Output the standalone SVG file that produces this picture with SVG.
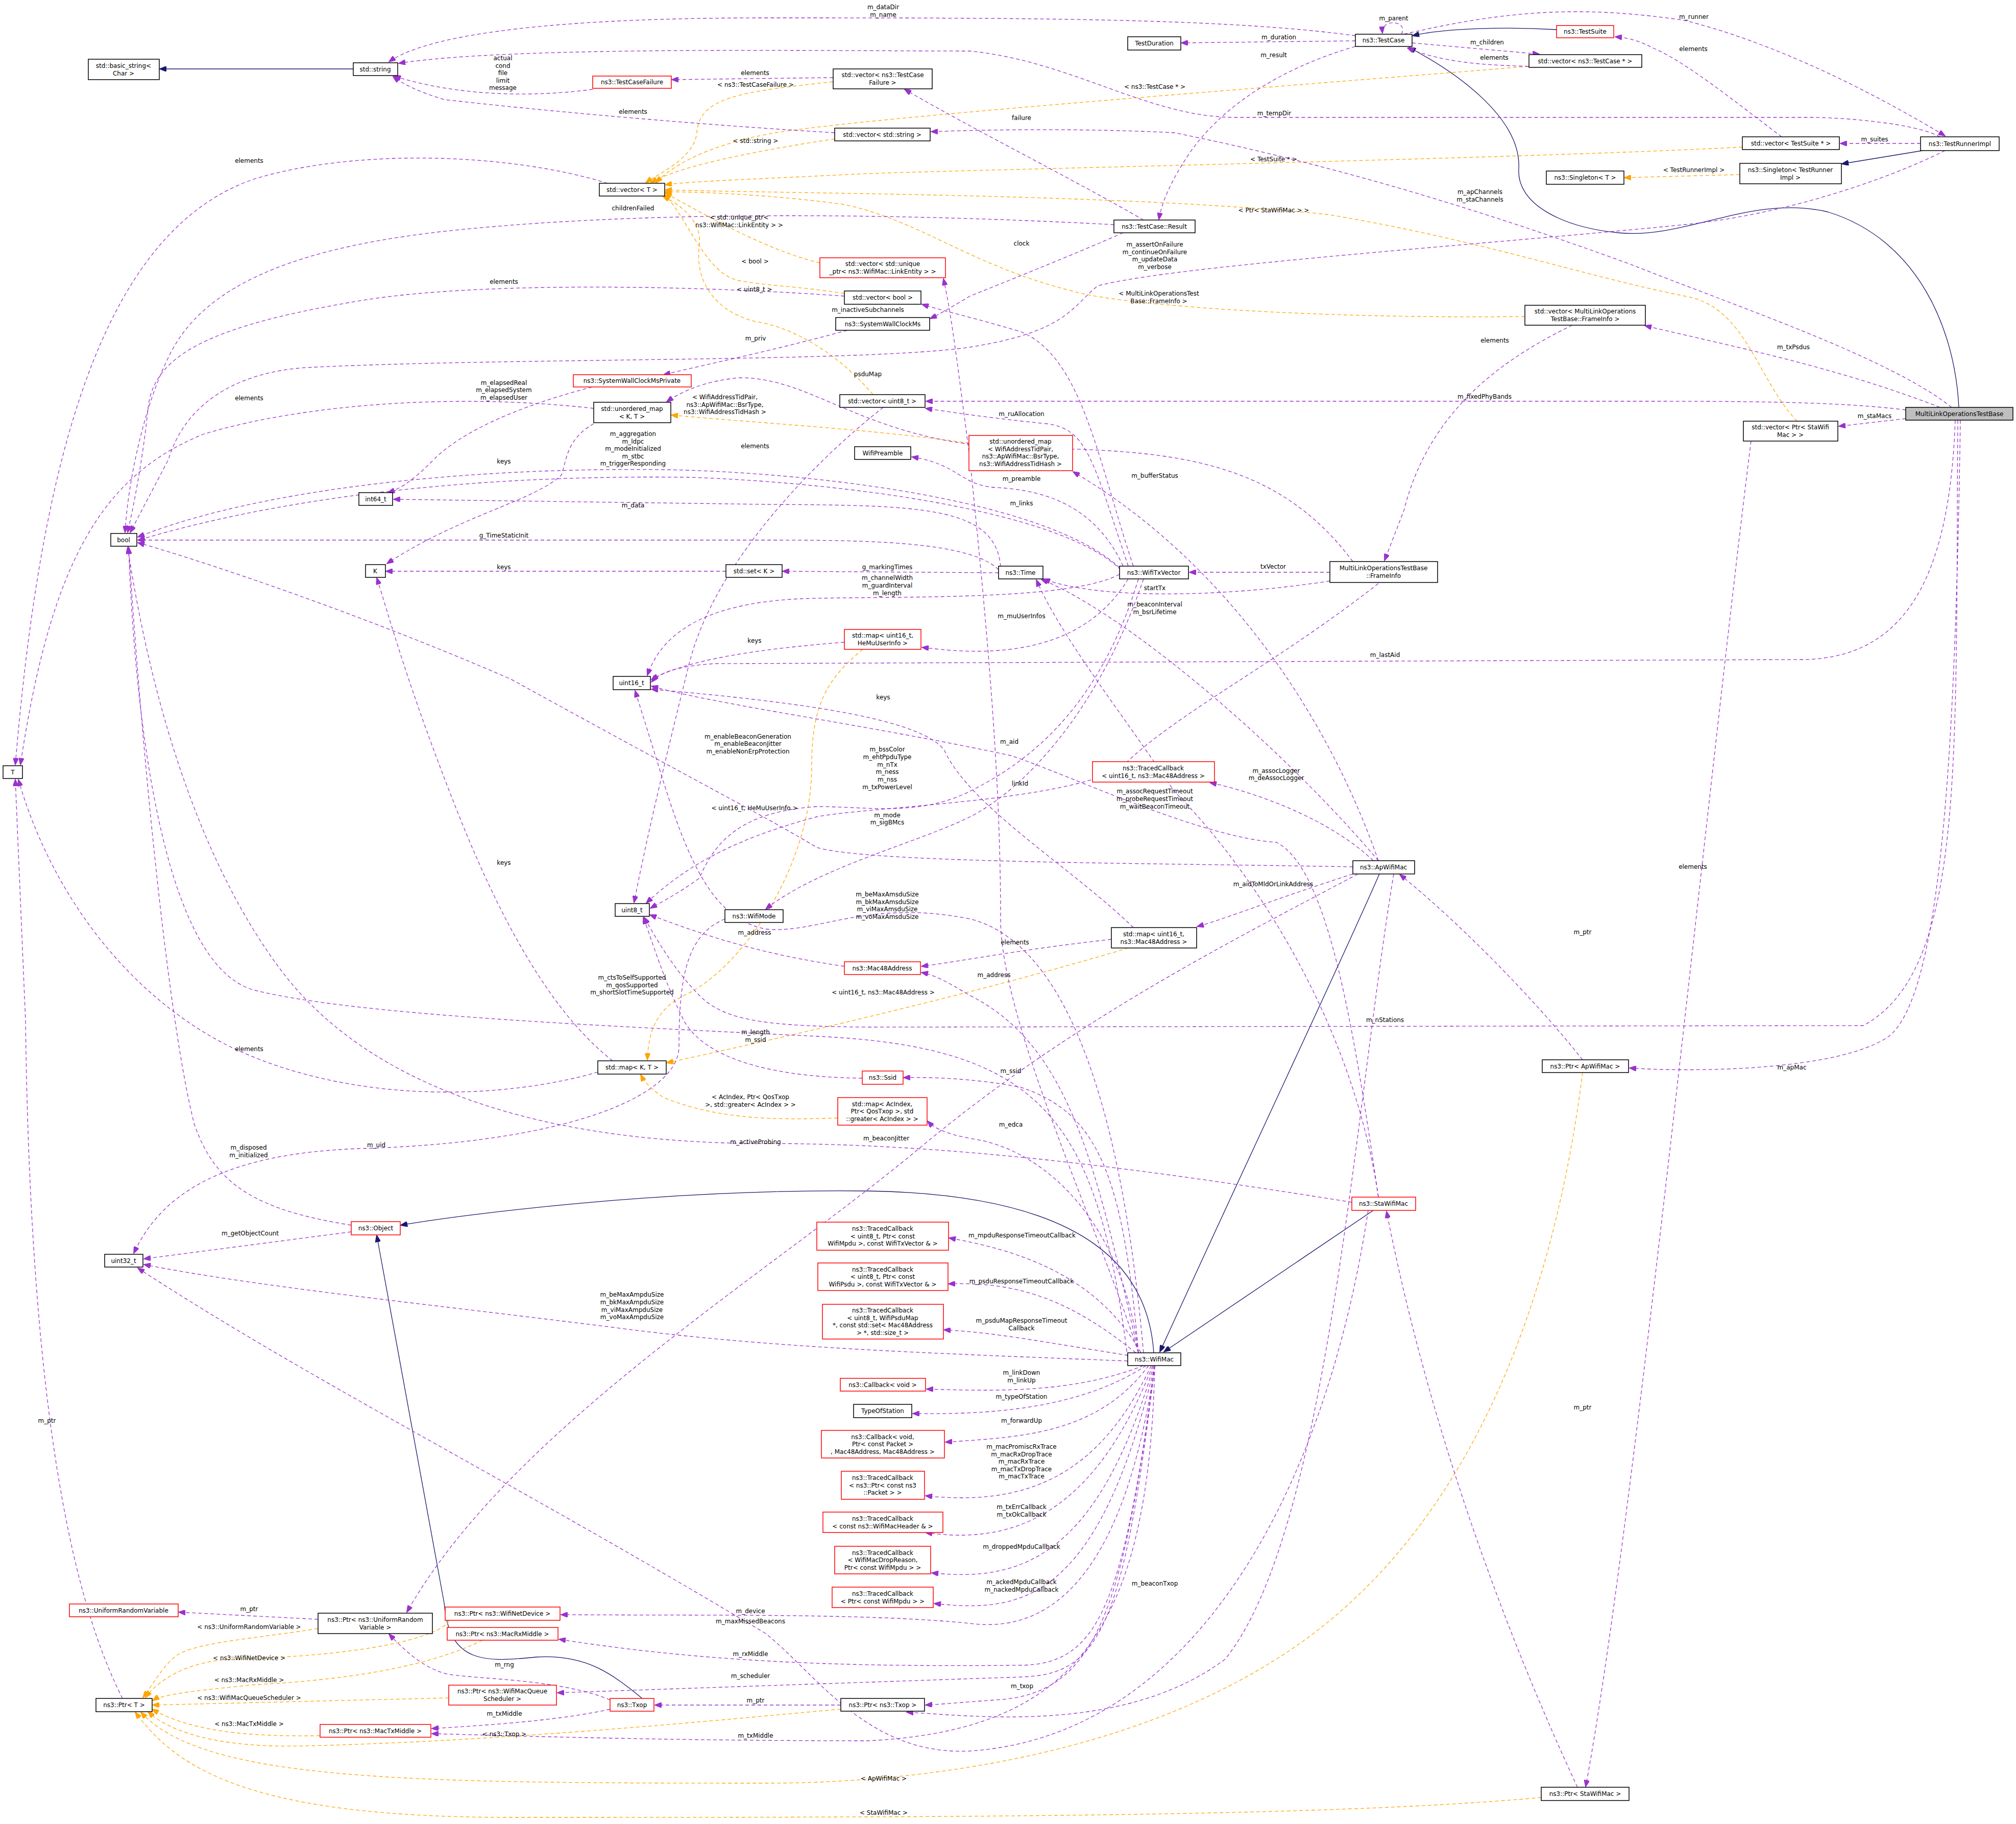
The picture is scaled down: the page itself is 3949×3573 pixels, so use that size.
<svg xmlns="http://www.w3.org/2000/svg" width="3949" height="3573" viewBox="0 0 3949 3573">
<style>
text{font-family:"DejaVu Sans","Liberation Sans",sans-serif;font-size:12px;fill:#000;text-anchor:middle}
rect{fill:#fff;stroke:#000;stroke-width:1.5}
rect.r{stroke:#ff0000}
rect.g{fill:#bfbfbf}
path{fill:none;stroke-width:1.3}
.p{stroke:#9a32cd;stroke-dasharray:7,5;marker-end:url(#mp)}
.o{stroke:#ffa500;stroke-dasharray:7,5;marker-end:url(#mo)}
.n{stroke:#191970;marker-end:url(#mn)}
</style>
<defs>
<marker id="mp" viewBox="0 0 10 8" refX="10" refY="4" markerWidth="14" markerHeight="10" markerUnits="userSpaceOnUse" orient="auto"><path d="M0,0 L10,4 L0,8 z" style="fill:#9a32cd;stroke:#9a32cd"/></marker>
<marker id="mo" viewBox="0 0 10 8" refX="10" refY="4" markerWidth="14" markerHeight="10" markerUnits="userSpaceOnUse" orient="auto"><path d="M0,0 L10,4 L0,8 z" style="fill:#ffa500;stroke:#ffa500"/></marker>
<marker id="mn" viewBox="0 0 10 8" refX="10" refY="4" markerWidth="14" markerHeight="10" markerUnits="userSpaceOnUse" orient="auto"><path d="M0,0 L10,4 L0,8 z" style="fill:#191970;stroke:#191970"/></marker>
</defs>
<g id="edges">
<path class="n" d="M692,135 L313,135"/>
<path class="n" d="M3049,58 C2950,52 2830,55 2767,70"/>
<path class="n" d="M3837,798 C3830,650 3760,470 3580,415 C3430,380 3300,470 3170,456 C3060,445 2970,400 2975,330 C2980,230 2850,140 2760,93"/>
<path class="n" d="M3766,295 L3608,321"/>
<path class="n" d="M2260,2650 C2250,2500 2150,2340 1700,2333 C1300,2328 900,2380 785,2400"/>
<path class="n" d="M2702,1712 C2620,1900 2500,2150 2272,2648"/>
<path class="n" d="M2690,2371 L2280,2648"/>
<path class="n" d="M1258,3327 C1200,3280 1150,3240 1050,3246 C950,3256 880,3260 870,3140 L738,2420"/>

<path class="o" d="M1632,160 C1450,180 1370,190 1365,260 C1360,310 1290,340 1265,358"/>
<path class="o" d="M1635,272 C1450,300 1320,330 1275,358"/>
<path class="o" d="M2995,130 C2500,170 1700,230 1520,260 C1400,280 1320,320 1285,358"/>
<path class="o" d="M3413,288 C3000,310 2000,330 1700,340 C1500,350 1350,355 1303,362"/>
<path class="o" d="M3520,825 C3440,740 3420,600 3300,580 C3100,540 2900,470 2600,420 C2200,380 1600,380 1303,372"/>
<path class="o" d="M1606,515 C1500,490 1380,420 1303,378"/>
<path class="o" d="M1654,575 C1560,560 1500,560 1450,550 C1380,540 1340,410 1300,382"/>
<path class="o" d="M1710,773 C1640,690 1550,640 1480,630 C1400,610 1360,550 1370,480 C1375,430 1330,400 1298,384"/>
<path class="o" d="M2987,620 C2600,625 2200,600 2100,570 C1900,520 1800,430 1650,400 C1500,380 1350,375 1303,376"/>
<path class="o" d="M3408,342 L3182,348"/>
<path class="o" d="M1898,868 C1700,840 1500,830 1315,813"/>
<path class="o" d="M1690,1272 C1620,1330 1590,1380 1590,1500 C1590,1700 1450,1900 1340,1950 C1280,1980 1270,2030 1268,2076"/>
<path class="o" d="M2210,1857 C1900,1950 1500,2040 1306,2082"/>
<path class="o" d="M1641,2190 C1500,2195 1400,2190 1300,2150 C1270,2130 1260,2115 1255,2105"/>
<path class="o" d="M623,3190 C500,3210 400,3215 350,3240 C320,3260 300,3300 280,3325"/>
<path class="o" d="M880,3174 C860,3210 700,3245 450,3250 C380,3255 320,3280 285,3325"/>
<path class="o" d="M945,3213 C850,3260 700,3290 500,3300 C400,3310 320,3318 299,3331"/>
<path class="o" d="M879,3326 L299,3340"/>
<path class="o" d="M627,3400 C500,3402 380,3395 298,3348"/>
<path class="o" d="M1647,3348 C1400,3370 1000,3410 600,3420 C420,3425 330,3390 290,3353"/>
<path class="o" d="M3100,2101 C3050,2500 2900,3000 2500,3250 C2200,3440 1800,3493 1500,3493 C800,3493 400,3490 276,3354"/>
<path class="o" d="M3019,3521 C2600,3560 1800,3560 1000,3560 C500,3560 350,3470 265,3354"/>

<path class="p" d="M2655,70 C2400,35 2000,35 1500,35 C1000,35 820,80 762,121"/>
<path class="p" d="M2745,67 C2760,40 2705,35 2708,65"/>
<path class="p" d="M2655,80 L2314,84"/>
<path class="p" d="M2655,91 C2520,130 2400,200 2330,300 C2290,360 2275,400 2270,430"/>
<path class="p" d="M2766,84 L3015,106"/>
<path class="p" d="M3030,130 C2900,130 2820,120 2757,94"/>
<path class="p" d="M3490,268 C3400,200 3300,120 3240,95 C3220,85 3200,75 3164,72"/>
<path class="p" d="M2750,67 C2950,20 3100,10 3300,40 C3500,90 3700,200 3810,266"/>
<path class="p" d="M3762,281 L3605,281"/>
<path class="p" d="M3800,268 C3750,240 3600,230 3550,230 L2420,230 C2250,230 2100,120 1900,100 C1600,100 1000,90 781,124"/>
<path class="p" d="M1161,175 C1050,190 900,190 772,149"/>
<path class="p" d="M1632,152 L1316,156"/>
<path class="p" d="M1635,260 C1300,240 1000,210 870,195 C820,180 790,165 770,150"/>
<path class="p" d="M1190,359 C1000,300 700,290 500,350 C200,450 80,900 30,1498"/>
<path class="p" d="M2182,440 C1800,420 1300,410 900,450 C600,480 400,550 330,700 C280,800 250,950 245,1043"/>
<path class="p" d="M2240,431 C2100,350 1900,250 1772,175"/>
<path class="p" d="M2200,456 C2100,500 1950,560 1900,580 C1850,610 1835,618 1822,624"/>
<path class="p" d="M1654,580 C1300,555 900,555 700,590 C400,640 300,700 290,800 C280,900 260,1000 250,1043"/>
<path class="p" d="M1660,647 C1500,690 1400,710 1300,734"/>
<path class="p" d="M1160,758 C1000,800 900,850 850,900 C800,950 780,958 760,965"/>
<path class="p" d="M1163,800 C900,770 600,790 400,850 C200,930 100,1100 40,1498"/>
<path class="p" d="M1163,830 C1110,860 1110,900 1100,930 C1050,980 900,1010 758,1104"/>
<path class="p" d="M3810,295 C3700,350 3500,420 3300,440 C2900,480 2300,520 2150,560 C2100,600 2090,650 1900,680 C1700,710 1000,700 600,720 C450,730 360,800 330,900 L255,1043"/>
<path class="p" d="M2193,1112 C2050,980 1600,925 1300,920 C900,915 500,960 270,1052"/>
<path class="p" d="M2196,1117 C2080,1000 1650,945 1350,935 C1000,930 600,960 271,1058"/>
<path class="p" d="M1960,1110 C1950,990 1800,990 1500,988 L771,978"/>
<path class="p" d="M1956,1116 C1900,1060 1700,1058 1500,1058 L270,1058"/>
<path class="p" d="M1956,1122 L1533,1119"/>
<path class="p" d="M1422,1119 L756,1119"/>
<path class="p" d="M1730,798 C1600,900 1400,1100 1350,1300 C1300,1500 1265,1650 1242,1768"/>
<path class="p" d="M2230,2650 C2150,2400 1960,2000 1960,1800 C1960,1500 1930,1200 1900,900 C1880,750 1865,620 1848,546"/>
<path class="p" d="M2200,1109 C2150,1000 2060,960 1950,955 C1880,950 1880,910 1786,895"/>
<path class="p" d="M2210,1109 C2140,900 2130,840 2050,830 C1950,820 1880,810 1813,800"/>
<path class="p" d="M2700,1686 C2600,1400 2400,1100 2102,924"/>
<path class="p" d="M2220,1109 C2150,900 2120,700 2000,650 C1900,620 1850,610 1806,596"/>
<path class="p" d="M2605,1121 L2330,1121"/>
<path class="p" d="M2605,1138 C2400,1170 2150,1175 2044,1134"/>
<path class="p" d="M2650,1100 C2500,900 2300,880 2000,878 C1700,870 1600,740 1450,740 C1380,745 1330,770 1306,787"/>
<path class="p" d="M3080,637 C2950,700 2800,800 2750,1000 L2712,1098"/>
<path class="p" d="M3800,798 C3600,720 3400,680 3222,638"/>
<path class="p" d="M3733,803 C3600,786 3400,786 3200,786 L1814,786"/>
<path class="p" d="M3733,820 L3602,835"/>
<path class="p" d="M3830,823 C3820,1100 3750,1290 3530,1292 L1400,1300 C1320,1305 1290,1320 1276,1336"/>
<path class="p" d="M3823,798 C3700,700 3400,600 3200,520 C2900,410 2600,320 2300,260 C2100,250 1900,255 1824,258"/>
<path class="p" d="M3840,823 C3830,1500 3800,1950 3700,2030 C3600,2100 3300,2100 3192,2092"/>
<path class="p" d="M3835,823 C3830,1500 3850,1900 3650,2009 L1700,2012 C1500,2010 1420,2000 1370,1950 C1320,1900 1280,1830 1262,1797"/>
<path class="p" d="M3430,864 C3350,1500 3200,3000 3106,3500"/>
<path class="p" d="M3100,2076 C3000,1950 2850,1800 2742,1713"/>
<path class="p" d="M3090,3501 C2950,3200 2800,2800 2716,2373"/>
<path class="p" d="M2690,1686 C2600,1600 2450,1550 2370,1533"/>
<path class="p" d="M2650,1712 C2500,1760 2400,1800 2345,1815"/>
<path class="p" d="M2650,1698 C2200,1690 1700,1690 1600,1660 C1500,1600 1400,1550 1000,1330 C700,1200 400,1100 270,1063"/>
<path class="p" d="M2700,1686 C2500,1450 2200,1200 2040,1135"/>
<path class="p" d="M2660,1712 C2400,1850 2100,2000 1800,2250 C1500,2500 1000,2800 797,3158"/>
<path class="p" d="M2700,2345 C2650,2000 2600,1700 2500,1650 C2350,1640 2100,1520 1980,1480 C1700,1420 1400,1380 1276,1344"/>
<path class="p" d="M2220,1817 C2100,1700 1900,1580 1850,1470 C1800,1400 1500,1370 1276,1350"/>
<path class="p" d="M2700,1143 C2500,1300 2300,1400 2200,1500 C2100,1570 1700,1580 1600,1600 C1450,1640 1350,1690 1266,1769"/>
<path class="p" d="M2210,1134 C2110,1300 1900,1280 1806,1268"/>
<path class="p" d="M1654,1258 C1500,1270 1350,1290 1276,1331"/>
<path class="p" d="M2193,1125 C2100,1175 1800,1168 1600,1172 C1400,1175 1300,1230 1268,1323"/>
<path class="p" d="M2230,1134 C2150,1400 2000,1500 1900,1550 C1800,1600 1700,1580 1600,1580 C1450,1590 1400,1650 1370,1720 C1330,1750 1290,1770 1274,1779"/>
<path class="p" d="M2240,1134 C2150,1400 2000,1550 1900,1600 C1800,1650 1600,1700 1500,1781"/>
<path class="p" d="M2700,2345 C2650,2000 2450,1700 2300,1550 C2200,1400 2080,1250 2030,1136"/>
<path class="p" d="M2648,2355 C2300,2300 1900,2240 1500,2240 C1000,2240 700,2100 550,1900 C400,1700 300,1400 250,1072"/>
<path class="p" d="M2209,2660 C2150,2200 2050,2050 1600,2030 C1200,2010 700,1990 500,1940 C300,1890 260,1300 252,1072"/>
<path class="p" d="M2240,2650 C2200,2200 2100,1850 1900,1800 C1700,1760 1600,1830 1500,1820 C1400,1800 1350,1700 1290,1500 L1244,1353"/>
<path class="p" d="M2209,2666 C1800,2650 1500,2640 1200,2600 C800,2550 500,2520 282,2477"/>
<path class="p" d="M2230,2650 C2150,2300 2100,2050 1900,1950 C1850,1920 1830,1910 1805,1905"/>
<path class="p" d="M2177,1840 C2000,1860 1900,1880 1805,1893"/>
<path class="p" d="M1654,1893 C1500,1870 1400,1840 1273,1792"/>
<path class="p" d="M1689,2112 C1500,2110 1380,2070 1340,2000 C1300,1920 1280,1850 1260,1797"/>
<path class="p" d="M2230,2650 C2200,2300 2150,2180 2000,2130 C1900,2110 1800,2110 1770,2111"/>
<path class="p" d="M2230,2650 C2200,2400 2050,2250 1900,2230 C1850,2220 1830,2210 1817,2196"/>
<path class="p" d="M688,2400 C500,2370 420,2320 380,2200 C330,2000 280,1500 252,1072"/>
<path class="p" d="M688,2413 L282,2466"/>
<path class="p" d="M1420,1800 C1350,1830 1330,1900 1330,2050 C1330,2150 1100,2240 700,2250 C450,2260 320,2330 262,2455"/>
<path class="p" d="M2235,2650 C2150,2500 2000,2450 1859,2425"/>
<path class="p" d="M2225,2650 C2100,2550 2000,2510 1858,2515"/>
<path class="p" d="M2210,2655 C2050,2630 1950,2610 1849,2605"/>
<path class="p" d="M2240,2675 C2100,2730 1950,2725 1815,2721"/>
<path class="p" d="M2245,2675 C2100,2770 1900,2770 1788,2769"/>
<path class="p" d="M2250,2675 C2150,2810 2000,2815 1852,2825"/>
<path class="p" d="M2255,2675 C2150,2900 2000,2950 1813,2930"/>
<path class="p" d="M2258,2675 C2150,2950 2000,3030 1813,3002"/>
<path class="p" d="M2260,2675 C2150,3050 2000,3100 1825,3081"/>
<path class="p" d="M2262,2675 C2150,3140 2000,3160 1830,3141"/>
<path class="p" d="M2262,2675 C2200,3100 2050,3200 1900,3180 C1700,3160 1400,3165 1099,3163"/>
<path class="p" d="M2680,2371 C2600,2900 2350,3400 1900,3430 C1700,3440 1600,3280 1500,3200 C1000,2900 600,2700 270,2484"/>
<path class="p" d="M2262,2675 C2200,3150 2150,3260 2000,3262 C1700,3265 1400,3260 1095,3211"/>
<path class="p" d="M2262,2675 C2200,3200 2150,3280 2000,3285 L1092,3316"/>
<path class="p" d="M1195,3330 C1100,3290 950,3290 880,3280 C830,3270 790,3230 762,3201"/>
<path class="p" d="M1195,3348 C1100,3370 950,3380 846,3386"/>
<path class="p" d="M2262,2675 C2250,3200 2100,3390 1700,3410 C1300,3410 1000,3400 846,3396"/>
<path class="p" d="M1647,3340 L1283,3340"/>
<path class="p" d="M2262,2675 C2200,3150 2150,3320 1950,3330 C1880,3335 1850,3338 1813,3340"/>
<path class="p" d="M2730,1712 C2650,2200 2600,3000 2400,3250 C2200,3400 1900,3360 1776,3354"/>
<path class="p" d="M240,3327 C150,3150 60,2800 50,2000 L30,1527"/>
<path class="p" d="M623,3172 L350,3158"/>
<path class="p" d="M1171,2100 C1000,2150 700,2170 450,2050 C250,1950 100,1750 36,1527"/>
<path class="p" d="M1200,2078 C1100,2000 1000,1850 900,1600 C800,1350 760,1200 738,1132"/>
</g>
<g id="edge-labels">
<text x="1480" y="170">&lt; ns3::TestCaseFailure &gt;</text>
<text x="1480" y="280">&lt; std::string &gt;</text>
<text x="2262" y="174">&lt; ns3::TestCase * &gt;</text>
<text x="2495" y="316">&lt; TestSuite * &gt;</text>
<text x="2495" y="416">&lt; Ptr&lt; StaWifiMac &gt; &gt;</text>
<text x="1448" y="430">&lt; std::unique_ptr&lt;</text>
<text x="1448" y="445">ns3::WifiMac::LinkEntity &gt; &gt;</text>
<text x="1479" y="516">&lt; bool &gt;</text>
<text x="1478" y="571">&lt; uint8_t &gt;</text>
<text x="2270" y="579">&lt; MultiLinkOperationsTest</text>
<text x="2270" y="594">Base::FrameInfo &gt;</text>
<text x="3318" y="337">&lt; TestRunnerImpl &gt;</text>
<text x="1420" y="782">&lt; WifiAddressTidPair,</text>
<text x="1420" y="797">ns3::ApWifiMac::BsrType,</text>
<text x="1420" y="811">ns3::WifiAddressTidHash &gt;</text>
<text x="1478" y="1587">&lt; uint16_t, HeMuUserInfo &gt;</text>
<text x="1730" y="1948">&lt; uint16_t, ns3::Mac48Address &gt;</text>
<text x="1470" y="2153">&lt; AcIndex, Ptr&lt; QosTxop</text>
<text x="1470" y="2168">&gt;, std::greater&lt; AcIndex &gt; &gt;</text>
<text x="488" y="3191">&lt; ns3::UniformRandomVariable &gt;</text>
<text x="488" y="3252">&lt; ns3::WifiNetDevice &gt;</text>
<text x="488" y="3295">&lt; ns3::MacRxMiddle &gt;</text>
<text x="488" y="3330">&lt; ns3::WifiMacQueueScheduler &gt;</text>
<text x="488" y="3381">&lt; ns3::MacTxMiddle &gt;</text>
<text x="988" y="3401">&lt; ns3::Txop &gt;</text>
<text x="1731" y="3488">&lt; ApWifiMac &gt;</text>
<text x="1731" y="3555">&lt; StaWifiMac &gt;</text>
<text x="1730" y="18">m_dataDir</text><text x="1730" y="33">m_name</text>
<text x="2730" y="40">m_parent</text>
<text x="2505" y="77">m_duration</text>
<text x="2495" y="112">m_result</text>
<text x="2913" y="87">m_children</text>
<text x="2927" y="117">elements</text>
<text x="3317" y="100">elements</text>
<text x="3318" y="37">m_runner</text>
<text x="3672" y="277">m_suites</text>
<text x="2496" y="226">m_tempDir</text>
<text x="985" y="118">actual</text><text x="985" y="133">cond</text><text x="985" y="147">file</text><text x="985" y="162">limit</text><text x="985" y="176">message</text>
<text x="1479" y="147">elements</text>
<text x="1240" y="223">elements</text>
<text x="488" y="319">elements</text>
<text x="1240" y="412">childrenFailed</text>
<text x="2001" y="235">failure</text>
<text x="2001" y="481">clock</text>
<text x="987" y="556">elements</text>
<text x="1480" y="667">m_priv</text>
<text x="987" y="754">m_elapsedReal</text><text x="987" y="768">m_elapsedSystem</text><text x="987" y="783">m_elapsedUser</text>
<text x="488" y="784">elements</text>
<text x="2262" y="483">m_assertOnFailure</text><text x="2262" y="498">m_continueOnFailure</text><text x="2262" y="512">m_updateData</text><text x="2262" y="527">m_verbose</text>
<text x="1240" y="854">m_aggregation</text><text x="1240" y="869">m_ldpc</text><text x="1240" y="883">m_modeInitialized</text><text x="1240" y="898">m_stbc</text><text x="1240" y="912">m_triggerResponding</text>
<text x="987" y="908">keys</text>
<text x="1240" y="994">m_data</text>
<text x="987" y="1053">g_TimeStaticInit</text>
<text x="1738" y="1115">g_markingTimes</text>
<text x="987" y="1115">keys</text>
<text x="1479" y="878">elements</text>
<text x="2001" y="990">m_links</text>
<text x="2001" y="942">m_preamble</text>
<text x="2001" y="815">m_ruAllocation</text>
<text x="2262" y="936">m_bufferStatus</text>
<text x="1700" y="611">m_inactiveSubchannels</text>
<text x="2494" y="1114">txVector</text>
<text x="2262" y="1156">startTx</text>
<text x="1700" y="737">psduMap</text>
<text x="2928" y="671">elements</text>
<text x="3513" y="684">m_txPsdus</text>
<text x="2908" y="781">m_fixedPhyBands</text>
<text x="3672" y="819">m_staMacs</text>
<text x="2713" y="1287">m_lastAid</text>
<text x="2899" y="380">m_apChannels</text><text x="2899" y="395">m_staChannels</text>
<text x="3510" y="2095">m_apMac</text>
<text x="2713" y="2002">m_nStations</text>
<text x="3316" y="1702">elements</text>
<text x="3100" y="1830">m_ptr</text>
<text x="3100" y="2761">m_ptr</text>
<text x="2500" y="1514">m_assocLogger</text><text x="2500" y="1528">m_deAssocLogger</text>
<text x="2494" y="1736">m_aidToMldOrLinkAddress</text>
<text x="1465" y="1447">m_enableBeaconGeneration</text><text x="1465" y="1461">m_enableBeaconJitter</text><text x="1465" y="1476">m_enableNonErpProtection</text>
<text x="2262" y="1188">m_beaconInterval</text><text x="2262" y="1203">m_bsrLifetime</text>
<text x="1736" y="2234">m_beaconJitter</text>
<text x="1977" y="1457">m_aid</text>
<text x="1730" y="1370">keys</text>
<text x="1998" y="1539">linkId</text>
<text x="2001" y="1211">m_muUserInfos</text>
<text x="1478" y="1259">keys</text>
<text x="1738" y="1136">m_channelWidth</text><text x="1738" y="1151">m_guardInterval</text><text x="1738" y="1166">m_length</text>
<text x="1738" y="1472">m_bssColor</text><text x="1738" y="1487">m_ehtPpduType</text><text x="1738" y="1502">m_nTx</text><text x="1738" y="1516">m_ness</text><text x="1738" y="1531">m_nss</text><text x="1738" y="1546">m_txPowerLevel</text>
<text x="1738" y="1601">m_mode</text><text x="1738" y="1615">m_sigBMcs</text>
<text x="2262" y="1554">m_assocRequestTimeout</text><text x="2262" y="1569">m_probeRequestTimeout</text><text x="2262" y="1584">m_waitBeaconTimeout</text>
<text x="1480" y="2241">m_activeProbing</text>
<text x="1238" y="1919">m_ctsToSelfSupported</text><text x="1238" y="1934">m_qosSupported</text><text x="1238" y="1948">m_shortSlotTimeSupported</text>
<text x="1738" y="1756">m_beMaxAmsduSize</text><text x="1738" y="1771">m_bkMaxAmsduSize</text><text x="1738" y="1785">m_viMaxAmsduSize</text><text x="1738" y="1800">m_voMaxAmsduSize</text>
<text x="1238" y="2540">m_beMaxAmpduSize</text><text x="1238" y="2555">m_bkMaxAmpduSize</text><text x="1238" y="2570">m_viMaxAmpduSize</text><text x="1238" y="2584">m_voMaxAmpduSize</text>
<text x="1947" y="1914">m_address</text>
<text x="1988" y="1850">elements</text>
<text x="1478" y="1831">m_address</text>
<text x="1480" y="2026">m_length</text><text x="1480" y="2041">m_ssid</text>
<text x="1980" y="2102">m_ssid</text>
<text x="1980" y="2207">m_edca</text>
<text x="487" y="2252">m_disposed</text><text x="487" y="2267">m_initialized</text>
<text x="490" y="2420">m_getObjectCount</text>
<text x="737" y="2247">m_uid</text>
<text x="2002" y="2424">m_mpduResponseTimeoutCallback</text>
<text x="2001" y="2514">m_psduResponseTimeoutCallback</text>
<text x="2001" y="2591">m_psduMapResponseTimeout</text><text x="2001" y="2606">Callback</text>
<text x="2001" y="2693">m_linkDown</text><text x="2001" y="2708">m_linkUp</text>
<text x="2001" y="2740">m_typeOfStation</text>
<text x="2001" y="2787">m_forwardUp</text>
<text x="2001" y="2838">m_macPromiscRxTrace</text><text x="2001" y="2853">m_macRxDropTrace</text><text x="2001" y="2867">m_macRxTrace</text><text x="2001" y="2882">m_macTxDropTrace</text><text x="2001" y="2896">m_macTxTrace</text>
<text x="2001" y="2956">m_txErrCallback</text><text x="2001" y="2971">m_txOkCallback</text>
<text x="2001" y="3034">m_droppedMpduCallback</text>
<text x="2001" y="3103">m_ackedMpduCallback</text><text x="2001" y="3118">m_nackedMpduCallback</text>
<text x="1470" y="3160">m_device</text>
<text x="1470" y="3180">m_maxMissedBeacons</text>
<text x="1470" y="3244">m_rxMiddle</text>
<text x="1470" y="3287">m_scheduler</text>
<text x="988" y="3265">m_rng</text>
<text x="988" y="3361">m_txMiddle</text>
<text x="1480" y="3404">m_txMiddle</text>
<text x="1480" y="3335">m_ptr</text>
<text x="2002" y="3307">m_txop</text>
<text x="2262" y="3106">m_beaconTxop</text>
<text x="92" y="2787">m_ptr</text>
<text x="488" y="3156">m_ptr</text>
<text x="488" y="2059">elements</text>
<text x="987" y="1694">keys</text>
</g>
<g id="n_basic_string"><rect x="173" y="116" width="139" height="40"/><text x="242" y="133">std::basic_string&lt;</text><text x="242" y="148">Char &gt;</text></g>
<g id="n_string"><rect x="692" y="123" width="87" height="25"/><text x="735" y="140">std::string</text></g>
<g id="n_tcfailure"><rect class="r" x="1161" y="149" width="154" height="24"/><text x="1238" y="165">ns3::TestCaseFailure</text></g>
<g id="n_vecT"><rect x="1174" y="359" width="128" height="25"/><text x="1238" y="376">std::vector&lt; T &gt;</text></g>
<g id="n_swcpriv"><rect class="r" x="1123" y="734" width="231" height="24"/><text x="1238" y="750">ns3::SystemWallClockMsPrivate</text></g>
<g id="n_umapKT"><rect x="1163" y="788" width="151" height="40"/><text x="1238" y="805">std::unordered_map</text><text x="1238" y="820">&lt; K, T &gt;</text></g>
<g id="n_int64"><rect x="703" y="965" width="66" height="25"/><text x="736" y="982">int64_t</text></g>
<g id="n_bool"><rect x="217" y="1045" width="51" height="25"/><text x="242" y="1062">bool</text></g>
<g id="n_testduration"><rect x="2209" y="72" width="104" height="26"/><text x="2261" y="89">TestDuration</text></g>
<g id="n_testcase"><rect x="2655" y="67" width="111" height="24"/><text x="2710" y="83">ns3::TestCase</text></g>
<g id="n_vecTCF"><rect x="1632" y="135" width="194" height="39"/><text x="1729" y="151">std::vector&lt; ns3::TestCase</text><text x="1729" y="166">Failure &gt;</text></g>
<g id="n_vecstring"><rect x="1635" y="251" width="187" height="25"/><text x="1728" y="268">std::vector&lt; std::string &gt;</text></g>
<g id="n_result"><rect x="2182" y="431" width="159" height="25"/><text x="2261" y="448">ns3::TestCase::Result</text></g>
<g id="n_vecuniq"><rect class="r" x="1606" y="505" width="246" height="39"/><text x="1729" y="521">std::vector&lt; std::unique</text><text x="1729" y="536">_ptr&lt; ns3::WifiMac::LinkEntity &gt; &gt;</text></g>
<g id="n_vecbool"><rect x="1654" y="570" width="150" height="26"/><text x="1729" y="587">std::vector&lt; bool &gt;</text></g>
<g id="n_swc"><rect x="1637" y="622" width="184" height="25"/><text x="1729" y="639">ns3::SystemWallClockMs</text></g>
<g id="n_vecuint8"><rect x="1645" y="773" width="167" height="25"/><text x="1728" y="790">std::vector&lt; uint8_t &gt;</text></g>
<g id="n_preamble"><rect x="1674" y="875" width="110" height="25"/><text x="1729" y="892">WifiPreamble</text></g>
<g id="n_umapWA"><rect class="r" x="1898" y="853" width="203" height="69"/><text x="1999" y="869">std::unordered_map</text><text x="1999" y="884">&lt; WifiAddressTidPair,</text><text x="1999" y="898">ns3::ApWifiMac::BsrType,</text><text x="1999" y="913">ns3::WifiAddressTidHash &gt;</text></g>
<g id="n_testsuite"><rect class="r" x="3049" y="50" width="112" height="24"/><text x="3105" y="66">ns3::TestSuite</text></g>
<g id="n_vecTC"><rect x="2995" y="107" width="221" height="25"/><text x="3105" y="124">std::vector&lt; ns3::TestCase * &gt;</text></g>
<g id="n_vecTS"><rect x="3413" y="268" width="190" height="25"/><text x="3508" y="285">std::vector&lt; TestSuite * &gt;</text></g>
<g id="n_runner"><rect x="3762" y="268" width="154" height="27"/><text x="3839" y="286">ns3::TestRunnerImpl</text></g>
<g id="n_singT"><rect x="3029" y="335" width="152" height="26"/><text x="3105" y="352">ns3::Singleton&lt; T &gt;</text></g>
<g id="n_singR"><rect x="3408" y="320" width="199" height="40"/><text x="3507" y="337">ns3::Singleton&lt; TestRunner</text><text x="3507" y="352">Impl &gt;</text></g>
<g id="n_vecFI"><rect x="2987" y="598" width="236" height="39"/><text x="3105" y="614">std::vector&lt; MultiLinkOperations</text><text x="3105" y="629">TestBase::FrameInfo &gt;</text></g>
<g id="n_mlotb"><rect class="g" x="3733" y="798" width="210" height="25"/><text x="3838" y="815">MultiLinkOperationsTestBase</text></g>
<g id="n_vecSta"><rect x="3415" y="825" width="185" height="39"/><text x="3507" y="841">std::vector&lt; Ptr&lt; StaWifi</text><text x="3507" y="856">Mac &gt; &gt;</text></g>
<g id="n_set"><rect x="1422" y="1106" width="110" height="25"/><text x="1477" y="1123">std::set&lt; K &gt;</text></g>
<g id="n_time"><rect x="1956" y="1109" width="87" height="25"/><text x="1999" y="1126">ns3::Time</text></g>
<g id="n_txvec"><rect x="2193" y="1109" width="135" height="25"/><text x="2260" y="1126">ns3::WifiTxVector</text></g>
<g id="n_frameinfo"><rect x="2605" y="1100" width="211" height="41"/><text x="2710" y="1117">MultiLinkOperationsTestBase</text><text x="2710" y="1132">::FrameInfo</text></g>
<g id="n_mapHeMu"><rect class="r" x="1654" y="1233" width="150" height="39"/><text x="1729" y="1249">std::map&lt; uint16_t,</text><text x="1729" y="1264">HeMuUserInfo &gt;</text></g>
<g id="n_uint16"><rect x="1201" y="1325" width="73" height="26"/><text x="1237" y="1342">uint16_t</text></g>
<g id="n_tcMac"><rect class="r" x="2140" y="1492" width="239" height="40"/><text x="2259" y="1509">ns3::TracedCallback</text><text x="2259" y="1524">&lt; uint16_t, ns3::Mac48Address &gt;</text></g>
<g id="n_ap"><rect x="2650" y="1686" width="121" height="26"/><text x="2710" y="1703">ns3::ApWifiMac</text></g>
<g id="n_uint8"><rect x="1205" y="1770" width="67" height="25"/><text x="1238" y="1787">uint8_t</text></g>
<g id="n_wifimode"><rect x="1420" y="1782" width="114" height="25"/><text x="1477" y="1799">ns3::WifiMode</text></g>
<g id="n_mapMac"><rect x="2177" y="1817" width="167" height="40"/><text x="2260" y="1834">std::map&lt; uint16_t,</text><text x="2260" y="1849">ns3::Mac48Address &gt;</text></g>
<g id="n_mac48"><rect class="r" x="1654" y="1884" width="149" height="25"/><text x="1728" y="1901">ns3::Mac48Address</text></g>
<g id="n_mapKT"><rect x="1171" y="2078" width="134" height="26"/><text x="1238" y="2095">std::map&lt; K, T &gt;</text></g>
<g id="n_ssid"><rect class="r" x="1689" y="2098" width="80" height="26"/><text x="1729" y="2115">ns3::Ssid</text></g>
<g id="n_mapAc"><rect class="r" x="1641" y="2150" width="175" height="54"/><text x="1728" y="2167">std::map&lt; AcIndex,</text><text x="1728" y="2181">Ptr&lt; QosTxop &gt;, std</text><text x="1728" y="2196">::greater&lt; AcIndex &gt; &gt;</text></g>
<g id="n_sta"><rect class="r" x="2648" y="2345" width="125" height="26"/><text x="2710" y="2362">ns3::StaWifiMac</text></g>
<g id="n_tc1"><rect class="r" x="1600" y="2394" width="258" height="55"/><text x="1729" y="2411">ns3::TracedCallback</text><text x="1729" y="2426">&lt; uint8_t, Ptr&lt; const</text><text x="1729" y="2440">WifiMpdu &gt;, const WifiTxVector &amp; &gt;</text></g>
<g id="n_tc2"><rect class="r" x="1602" y="2474" width="255" height="54"/><text x="1729" y="2491">ns3::TracedCallback</text><text x="1729" y="2505">&lt; uint8_t, Ptr&lt; const</text><text x="1729" y="2520">WifiPsdu &gt;, const WifiTxVector &amp; &gt;</text></g>
<g id="n_tc3"><rect class="r" x="1611" y="2555" width="237" height="68"/><text x="1729" y="2571">ns3::TracedCallback</text><text x="1729" y="2586">&lt; uint8_t, WifiPsduMap</text><text x="1729" y="2600">*, const std::set&lt; Mac48Address</text><text x="1729" y="2615">&gt; *, std::size_t &gt;</text></g>
<g id="n_wifimac"><rect x="2209" y="2650" width="104" height="25"/><text x="2261" y="2667">ns3::WifiMac</text></g>
<g id="n_cbvoid"><rect class="r" x="1646" y="2700" width="167" height="25"/><text x="1729" y="2717">ns3::Callback&lt; void &gt;</text></g>
<g id="n_tos"><rect x="1672" y="2751" width="114" height="26"/><text x="1729" y="2768">TypeOfStation</text></g>
<g id="n_cb2"><rect class="r" x="1609" y="2802" width="241" height="54"/><text x="1729" y="2819">ns3::Callback&lt; void,</text><text x="1729" y="2833">Ptr&lt; const Packet &gt;</text><text x="1729" y="2848">, Mac48Address, Mac48Address &gt;</text></g>
<g id="n_tc4"><rect class="r" x="1648" y="2882" width="163" height="55"/><text x="1729" y="2899">ns3::TracedCallback</text><text x="1729" y="2914">&lt; ns3::Ptr&lt; const ns3</text><text x="1729" y="2928">::Packet &gt; &gt;</text></g>
<g id="n_tc5"><rect class="r" x="1612" y="2962" width="235" height="40"/><text x="1729" y="2979">ns3::TracedCallback</text><text x="1729" y="2994">&lt; const ns3::WifiMacHeader &amp; &gt;</text></g>
<g id="n_tc6"><rect class="r" x="1635" y="3029" width="188" height="54"/><text x="1729" y="3046">ns3::TracedCallback</text><text x="1729" y="3060">&lt; WifiMacDropReason,</text><text x="1729" y="3075">Ptr&lt; const WifiMpdu &gt; &gt;</text></g>
<g id="n_tc7"><rect class="r" x="1630" y="3109" width="198" height="40"/><text x="1729" y="3126">ns3::TracedCallback</text><text x="1729" y="3141">&lt; Ptr&lt; const WifiMpdu &gt; &gt;</text></g>
<g id="n_ptrtxop"><rect x="1647" y="3327" width="164" height="25"/><text x="1729" y="3344">ns3::Ptr&lt; ns3::Txop &gt;</text></g>
<g id="n_object"><rect class="r" x="688" y="2393" width="96" height="26"/><text x="736" y="2410">ns3::Object</text></g>
<g id="n_uint32"><rect x="205" y="2457" width="75" height="25"/><text x="242" y="2474">uint32_t</text></g>
<g id="n_urv"><rect class="r" x="136" y="3142" width="213" height="25"/><text x="242" y="3159">ns3::UniformRandomVariable</text></g>
<g id="n_ptrurv"><rect x="623" y="3160" width="224" height="40"/><text x="735" y="3177">ns3::Ptr&lt; ns3::UniformRandom</text><text x="735" y="3192">Variable &gt;</text></g>
<g id="n_ptrdev"><rect class="r" x="872" y="3148" width="225" height="26"/><text x="984" y="3165">ns3::Ptr&lt; ns3::WifiNetDevice &gt;</text></g>
<g id="n_ptrrx"><rect class="r" x="876" y="3188" width="217" height="25"/><text x="984" y="3205">ns3::Ptr&lt; ns3::MacRxMiddle &gt;</text></g>
<g id="n_ptrsched"><rect class="r" x="879" y="3301" width="211" height="39"/><text x="984" y="3317">ns3::Ptr&lt; ns3::WifiMacQueue</text><text x="984" y="3332">Scheduler &gt;</text></g>
<g id="n_txop"><rect class="r" x="1195" y="3327" width="86" height="25"/><text x="1238" y="3344">ns3::Txop</text></g>
<g id="n_ptrtx"><rect class="r" x="627" y="3378" width="217" height="25"/><text x="735" y="3395">ns3::Ptr&lt; ns3::MacTxMiddle &gt;</text></g>
<g id="n_ptrT"><rect x="188" y="3327" width="110" height="26"/><text x="243" y="3344">ns3::Ptr&lt; T &gt;</text></g>
<g id="n_T"><rect x="6" y="1500" width="38" height="25"/><text x="25" y="1517">T</text></g>
<g id="n_K"><rect x="716" y="1106" width="39" height="25"/><text x="735" y="1123">K</text></g>
<g id="n_ptrap"><rect x="3021" y="2076" width="169" height="25"/><text x="3105" y="2093">ns3::Ptr&lt; ApWifiMac &gt;</text></g>
<g id="n_ptrsta"><rect x="3019" y="3501" width="172" height="26"/><text x="3105" y="3518">ns3::Ptr&lt; StaWifiMac &gt;</text></g>
</svg>
